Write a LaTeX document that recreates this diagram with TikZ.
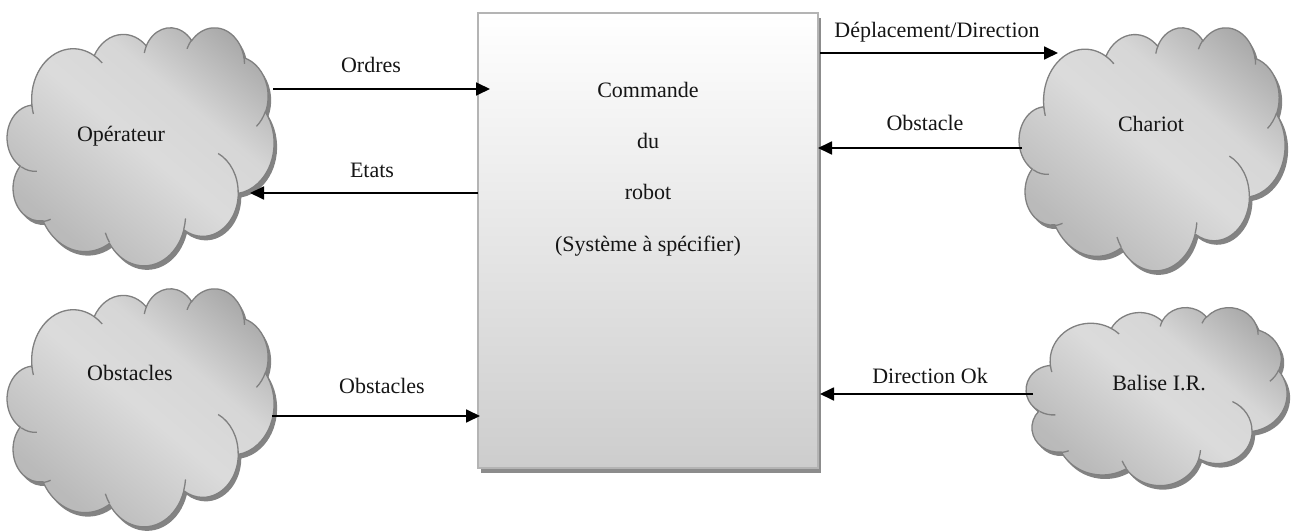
\documentclass[tikz,border=0pt]{standalone}
\usepackage{fontspec}
\setmainfont{Liberation Serif}
\usetikzlibrary{arrows.meta,shadows}

\definecolor{cloudEdge}{HTML}{808080}
\definecolor{cloudShadow}{HTML}{838383}
\definecolor{boxEdge}{HTML}{B4B4B4}
\definecolor{boxLow}{HTML}{CDCDCD}
\definecolor{ink}{HTML}{151515}

% diagonal grey gradient of the clouds: darker corner, light band in the middle
\pgfdeclareverticalshading{cloudshade}{100bp}{%
  color(0bp)=(black!32); color(28bp)=(black!27); color(50bp)=(black!14);
  color(62bp)=(black!16); color(78bp)=(black!34); color(100bp)=(black!40)}

% elliptical arc; start and sweep are visual angles (screen orientation)
\def\carc#1#2#3#4{arc[start angle={atan2(#1*sin(#3),#2*cos(#3))},
  delta angle={Mod(atan2(#1*sin(#3+#4),#2*cos(#3+#4))-atan2(#1*sin(#3),#2*cos(#3)),360)},
  x radius=#1, y radius=#2]}

% cloud outline in a 100 x 100 frame
\def\cloudoutline{(9.0278,33.2639)
  \carc{15.6319}{21.2731}{-190.4875}{123.7805}
  \carc{12.3449}{16.8218}{-144.1024}{89.9452}
  \carc{10.1042}{13.7616}{-145.8079}{99.7230}
  \carc{11.2431}{15.2662}{-130.9861}{117.2417}
  \carc{12.3449}{16.8356}{-78.7089}{109.0269}
  \carc{15.6829}{21.3426}{-46.2673}{130.2690}
  \carc{13.3912}{18.2106}{0.6250}{114.0333}
  \carc{15.6296}{21.3310}{22.4516}{115.1726}
  \carc{17.8704}{24.4051}{66.2426}{77.8245}
  \carc{10.0926}{13.6991}{-274.9421}{146.7403}
  \carc{10.0579}{13.7616}{-246.8285}{152.5182} -- cycle}

% small creases between the puffs
\def\cloudcreases{
  (10.8634,60.5949) \carc{10.0579}{13.7616}{86.7420}{26.4295}
  (16.0370,80.7847) \carc{10.0926}{13.6991}{73.6105}{11.4475}
  (38.1435,90.4861) \carc{15.6296}{21.3310}{137.6242}{14.0811}
  (66.7292,80.4421) \carc{15.6296}{21.3310}{6.4533}{15.9984}
  (79.0023,53.1343) \carc{13.3912}{18.2106}{-70.2924}{70.9174}
  (96.7546,35.5417) \carc{12.3449}{16.8356}{30.3180}{27.7515}
  (88.7130,12.5602) \carc{11.2431}{15.2662}{-13.7443}{14.8589}
  (67.3102,9.1481) \carc{11.2431}{15.2662}{-149.1815}{18.1954}
  (51.2523,10.9259) \carc{10.1042}{13.7616}{-163.4943}{17.6864}
  (32.4074,12.0185) \carc{15.6319}{21.2731}{-66.7070}{12.3194}
  (9.5532,36.5486) \carc{15.6319}{21.2731}{157.6544}{11.8582}}

% shaded cloud with its shadow: left, top, width, height (pt)
\newcommand\cloudat[4]{%
  \pgfmathsetmacro\cloudsx{#3/100}%
  \pgfmathsetmacro\cloudsy{#4/100}%
  \begin{scope}[shift={(#1,#2)}, x=\cloudsx pt, y=-\cloudsy pt]
    \fill[cloudShadow, xshift=3pt, yshift=-4pt] \cloudoutline;
    \shadedraw[cloudfill, cloudline] \cloudoutline;
    \draw[cloudline] \cloudcreases;
  \end{scope}}

\begin{document}
\begin{tikzpicture}[x=1pt, y=-1pt,
  cloudfill/.style={shading=cloudshade, shading angle=-40},
  cloudline/.style={draw=cloudEdge, line width=1.3pt},
  area/.style={inner sep=0pt, outer sep=0pt},
  lbl/.style={font=\fontsize{22}{26}\selectfont, text=ink, inner sep=0pt, anchor=base},
  cmdbox/.style={rectangle, inner sep=0pt, outer sep=0pt, minimum width=340pt, minimum height=455pt,
    draw=boxEdge, line width=2.5pt, top color=white, bottom color=boxLow,
    drop shadow={shadow xshift=3pt, shadow yshift=-5pt, fill=black!45, opacity=1}},
  arr/.style={draw=black, line width=1.8pt, -{Triangle[length=14pt,width=13pt]}}]

\useasboundingbox (0,0) rectangle (1291,532);
\fill[white] (0,0) rectangle (1291,532);

% the four external actors
\cloudat{8}{27}{266}{238}
\cloudat{8}{288}{266}{238}
\cloudat{1020}{27}{265}{243}
\cloudat{1027}{307}{260}{178}

\node[area, minimum width=266pt, minimum height=238pt] (op) at (141,146) {};
\node[area, minimum width=266pt, minimum height=238pt] (obs) at (141,407) {};
\node[area, minimum width=265pt, minimum height=243pt] (cha) at (1152.5,148.5) {};
\node[area, minimum width=260pt, minimum height=178pt] (bal) at (1157,396) {};

\node[lbl] (opt) at (121,142) {Opérateur};
\node[lbl] (obst) at (130,380) {Obstacles};
\node[lbl] (chat) at (1151,132) {Chariot};
\node[lbl] (balt) at (1159,390) {Balise I.R.};

% the system to specify
\node[cmdbox] (cmd) at (648,240.5) {};
\node[lbl] (cmd1) at (648,98) {Commande};
\node[lbl] (cmd2) at (648,149) {du};
\node[lbl] (cmd3) at (648,200) {robot};
\node[lbl] (cmd4) at (648,251) {(Système à spécifier)};

% flows
\draw[arr] ([xshift=-1pt]op.east |- 0,89) -- ([xshift=12pt]cmd.west |- 0,89);
\node[lbl] (lordres) at (371,73) {Ordres};

\draw[arr] (cmd.west |- 0,193) -- ([xshift=-24pt]op.east |- 0,193);
\node[lbl] (letats) at (372,178) {Etats};

\draw[arr] ([xshift=-2pt]obs.east |- 0,416) -- ([xshift=2pt]cmd.west |- 0,416);
\node[lbl] (lobs) at (382,393) {Obstacles};

\draw[arr] ([xshift=2pt]cmd.east |- 0,53) -- ([xshift=38pt]cha.west |- 0,53);
\node[lbl] (ldep) at (937,38) {Déplacement/Direction};

\draw[arr] ([xshift=2pt]cha.west |- 0,148) -- (cmd.east |- 0,148);
\node[lbl] (lobst) at (925,131) {Obstacle};

\draw[arr] ([xshift=6pt]bal.west |- 0,394) -- ([xshift=2pt]cmd.east |- 0,394);
\node[lbl] (ldir) at (930,383) {Direction Ok};

\end{tikzpicture}
\end{document}
